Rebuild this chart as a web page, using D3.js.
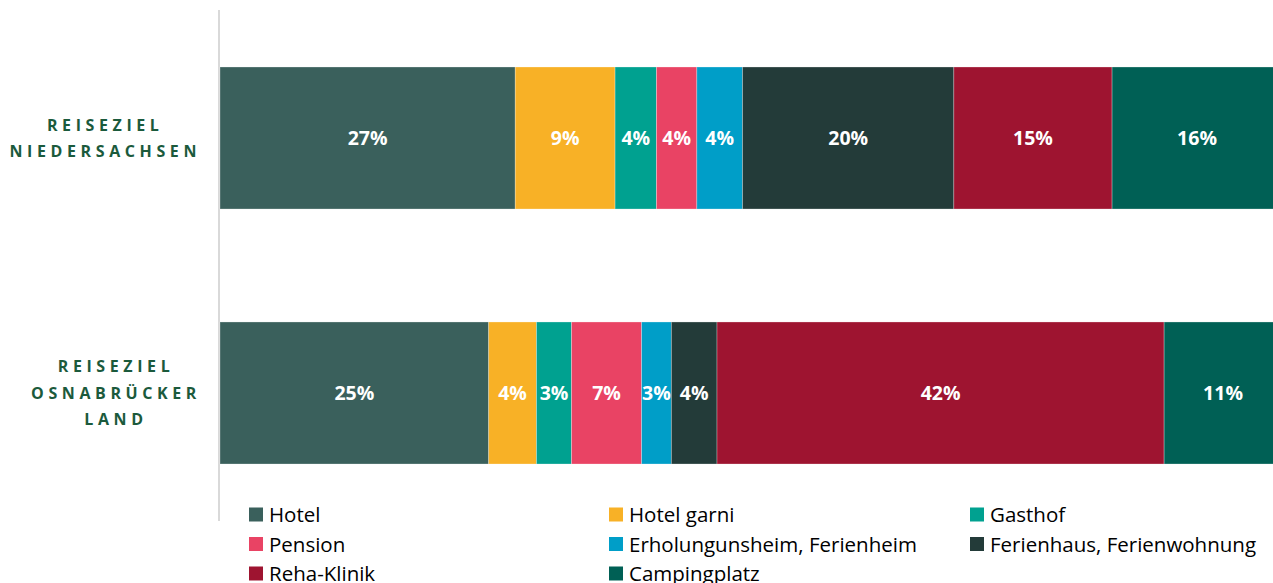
<!DOCTYPE html>
<html>
<head>
<meta charset="utf-8">
<script src="https://cdn.jsdelivr.net/npm/d3@7"></script>
<style>
  body { margin: 0; background: #fff; }
  svg { display: block; font-family: "Open Sans", sans-serif; }
</style>
</head>
<body>
<svg id="chart" width="1273" height="583"></svg>
<script>
// Unterkunftsarten, Anteile je Reiseziel (Breiten)
const types = ["Hotel", "Hotel garni", "Gasthof", "Pension", "Erholungunsheim, Ferienheim",
  "Ferienhaus, Ferienwohnung", "Reha-Klinik", "Campingplatz"];
const colors = ["#3a605c", "#f8b126", "#00a190", "#e94364", "#009ec8", "#233b39", "#9e1430", "#006055"];
const regions = [["REISEZIEL", "NIEDERSACHSEN"], ["REISEZIEL", "OSNABRÜCKER", "LAND"]];
const niedersachsen = [27.8, 9.4, 3.9, 3.8, 4.3, 19.9, 14.9, 16.0];
const osnabrueck = [25.3, 4.5, 3.3, 6.6, 2.8, 4.3, 42.1, 11.1];
const niedersachsenLabels = ["27%", "9%", "4%", "4%", "4%", "20%", "15%", "16%"];
const osnabrueckLabels = ["25%", "4%", "3%", "7%", "3%", "4%", "42%", "11%"];

const rows = [niedersachsen, osnabrueck].map((vals, i) => {
  const o = { id: i };
  types.forEach((t, j) => o[t] = vals[j]);
  return o;
});
const labels = [niedersachsenLabels, osnabrueckLabels];

const svg = d3.select("#chart");

const x = d3.scaleLinear().domain([0, 100]).range([220, 1282]);
const y = d3.scaleBand().domain([0, 1]).range([10, 521]).paddingInner(0.443).paddingOuter(0.2235);
const color = d3.scaleOrdinal().domain(types).range(colors);

const series = d3.stack().keys(types)(rows);

// axis line
svg.append("line")
  .attr("x1", 219).attr("x2", 219)
  .attr("y1", 10).attr("y2", 521)
  .attr("stroke", "#d9d9d9").attr("stroke-width", 2);

const layer = svg.append("g").selectAll("g")
  .data(series)
  .join("g")
  .attr("fill", d => color(d.key));

layer.selectAll("rect")
  .data(d => d.map(s => ({ s, key: d.key })))
  .join("rect")
  .attr("x", d => x(d.s[0]))
  .attr("y", d => y(d.s.data.id))
  .attr("width", d => x(d.s[1]) - x(d.s[0]))
  .attr("height", y.bandwidth())
  .attr("stroke", "#fff")
  .attr("stroke-opacity", 0.35)
  .attr("stroke-width", 0.8);

layer.selectAll("text")
  .data(d => d.map(s => ({ s, key: d.key, idx: types.indexOf(d.key) })))
  .join("text")
  .attr("x", d => (x(d.s[0]) + x(d.s[1])) / 2)
  .attr("y", d => y(d.s.data.id) + y.bandwidth() / 2)
  .attr("dy", "0.36em")
  .attr("text-anchor", "middle")
  .attr("fill", "#fff")
  .attr("font-weight", 700)
  .attr("font-size", 19.5)
  .text(d => labels[d.s.data.id][d.idx]);

// category labels, lines centred in a block whose right edge is fixed
const lineH = 26.5;
regions.forEach((lines, i) => {
  const g = svg.append("g");
  const cy = y(i) + y.bandwidth() / 2;
  const texts = g.selectAll("text")
    .data(lines)
    .join("text")
    .attr("y", (d, k) => cy + (k - (lines.length - 1) / 2) * lineH)
    .attr("dy", "0.36em")
    .attr("text-anchor", "middle")
    .attr("fill", "#1b5a3c")
    .attr("font-weight", 700)
    .attr("font-size", 16)
    .attr("letter-spacing", "4.6px")
    .text(d => d);
  let maxW = 0;
  texts.each(function() { maxW = Math.max(maxW, this.getComputedTextLength()); });
  const cx = 201 - maxW / 2;
  texts.attr("x", cx);
});

// legend
const legendX = [249, 609, 970];
const legendY = [522, 551.5, 581];
const legend = svg.append("g").selectAll("g")
  .data(types)
  .join("g")
  .attr("transform", (d, i) => `translate(${legendX[i % 3]},${legendY[Math.floor(i / 3)]})`);

legend.append("rect")
  .attr("x", 0).attr("y", -14.5)
  .attr("width", 14).attr("height", 14)
  .attr("fill", d => color(d));

legend.append("text")
  .attr("x", 20)
  .attr("y", 0)
  .attr("font-size", 20.5)
  .attr("fill", "#000")
  .text(d => d);
</script>
</body>
</html>
